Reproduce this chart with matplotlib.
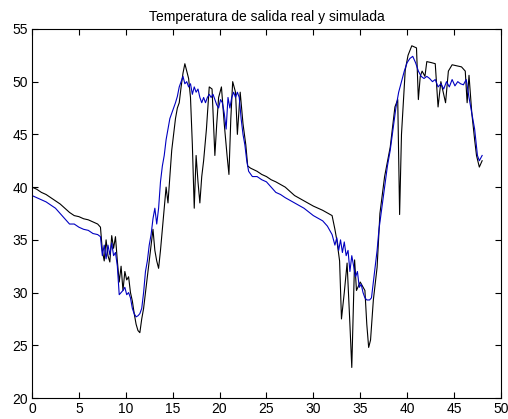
import matplotlib
matplotlib.use("Agg")
import matplotlib.pyplot as plt

# real (measured) outlet temperature
t_real = [0, 0.5, 1, 1.5, 2, 2.5, 3, 3.5, 4, 4.5, 5, 5.5, 6, 6.5, 7, 7.3,
          7.5, 7.7, 7.9, 8.1, 8.3, 8.5, 8.7, 8.9, 9.1, 9.3, 9.5, 9.7, 9.9,
          10.1, 10.3, 10.5, 10.7, 10.9, 11.1, 11.3, 11.5, 11.7, 11.9, 12.1,
          12.3, 12.5, 12.7, 12.9, 13.1, 13.3, 13.5, 13.7, 13.9, 14.1, 14.3,
          14.5, 14.7, 14.9, 15.1, 15.3, 15.5, 15.7, 15.9, 16.1, 16.3, 16.5,
          16.7, 16.9, 17.1, 17.3, 17.5, 17.7, 17.9, 18.1, 18.3, 18.6, 18.9,
          19.2, 19.5, 19.7, 19.9, 20.2, 20.5, 20.8, 21.0, 21.2, 21.4, 21.7,
          21.9, 22.2, 22.5, 22.8, 23.0, 23.3, 24, 24.5, 25, 25.5, 26, 27,
          28, 29, 30, 31, 32, 32.3, 32.5, 32.8, 33.0, 33.3, 33.6, 33.9, 34.1,
          34.4, 34.6, 35.0, 35.5, 35.7, 35.9, 36.1, 36.4, 36.8, 37.1, 37.6,
          38.2, 38.7, 39.0, 39.2, 39.4, 39.8, 40.1, 40.5, 41.0, 41.2, 41.4,
          41.6, 41.9, 42.1, 42.6, 43.0, 43.3, 43.6, 44.1, 44.4, 44.8, 45.3,
          45.8, 46.2, 46.4, 46.6, 46.9, 47.2, 47.4, 47.7, 48.0]
y_real = [40.0, 39.8, 39.5, 39.3, 39.0, 38.7, 38.4, 38.0, 37.6, 37.3, 37.2,
          37.0, 36.9, 36.7, 36.5, 36.2, 34.0, 33.0, 35.0, 33.5, 32.9, 35.4,
          34.2, 35.3, 33.0, 31.0, 32.5, 30.2, 32.0, 31.2, 31.5, 30.0, 29.2,
          28.0, 27.0, 26.4, 26.2, 27.5, 28.5, 30.0, 31.5, 33.0, 34.5, 36.0,
          34.0, 33.0, 32.3, 34.0, 36.0, 38.0, 40.0, 38.5, 41.0, 43.5, 45.0,
          46.5, 47.5, 48.0, 49.5, 50.8, 51.7, 51.0, 50.3, 48.5, 44.0, 38.0,
          43.0, 40.5, 38.5, 41.0, 42.5, 45.5, 49.5, 49.3, 43.0, 46.0, 48.5,
          49.5, 46.0, 43.0, 41.2, 46.5, 50.0, 49.0, 45.0, 49.0, 46.0, 44.0,
          42.0, 41.8, 41.5, 41.2, 41.0, 40.7, 40.5, 40.0, 39.2, 38.7, 38.2,
          37.8, 37.3, 36.0, 35.0, 33.0, 27.5, 30.0, 32.8, 27.0, 22.9, 33.1,
          30.2, 31.0, 30.2, 27.0, 24.8, 25.5, 29.3, 32.4, 37.5, 41.0, 43.8,
          47.6, 48.3, 37.4, 45.0, 51.1, 52.5, 53.4, 53.2, 48.3, 50.5, 51.0,
          50.5, 51.9, 51.8, 51.7, 47.6, 50.0, 48.0, 51.0, 51.6, 51.5, 51.4,
          51.0, 48.0, 50.6, 47.0, 44.5, 43.0, 41.9, 42.5]

# simulated outlet temperature
t_sim = [0, 0.5, 1, 1.5, 2, 2.5, 3, 3.5, 4, 4.5, 5, 5.5, 6, 6.5, 7, 7.3,
         7.5, 7.7, 7.9, 8.1, 8.3, 8.5, 8.7, 8.9, 9.1, 9.3, 9.5, 9.7, 9.9,
         10.1, 10.3, 10.5, 10.7, 10.9, 11.1, 11.3, 11.5, 11.7, 11.9, 12.1,
         12.3, 12.5, 12.7, 12.9, 13.1, 13.3, 13.5, 13.7, 13.9, 14.1, 14.3,
         14.5, 14.7, 14.9, 15.1, 15.3, 15.5, 15.7, 15.9, 16.1, 16.3, 16.5,
         16.7, 16.9, 17.1, 17.3, 17.5, 17.7, 17.9, 18.1, 18.3, 18.5, 18.7,
         18.9, 19.1, 19.3, 19.5, 19.7, 19.9, 20.1, 20.3, 20.5, 20.7, 20.9,
         21.1, 21.3, 21.5, 21.7, 21.9, 22.1, 22.3, 22.5, 22.7, 22.9, 23.1,
         23.5, 24, 24.5, 25, 25.5, 26, 26.5, 27, 28, 29, 30, 31, 31.5, 32,
         32.3, 32.5, 32.7, 32.9, 33.1, 33.3, 33.5, 33.7, 33.9, 34.1, 34.3,
         34.5, 34.7, 34.9, 35.1, 35.3, 35.5, 35.7, 36.0, 36.2, 36.4, 36.6,
         36.8, 37.0, 37.3, 37.6, 37.9, 38.2, 38.5, 38.8, 39.1, 39.4, 39.7,
         40.0, 40.3, 40.6, 40.9, 41.2, 41.5, 41.8, 42.1, 42.4, 42.7, 43.0,
         43.3, 43.6, 43.9, 44.2, 44.5, 44.8, 45.1, 45.4, 45.7, 46.0, 46.3,
         46.6, 46.9, 47.2, 47.5, 47.7, 48.0]
y_sim = [39.2, 39.0, 38.8, 38.6, 38.3, 38.0, 37.5, 37.0, 36.5, 36.5, 36.2,
         36.0, 35.9, 35.6, 35.5, 35.3, 33.5, 34.5, 33.2, 34.5, 33.6, 34.7,
         33.5, 33.8, 32.5, 29.8, 30.0, 30.2, 30.5, 29.8, 30.0, 29.5, 28.5,
         28.0, 27.7, 27.8, 28.0, 28.5, 30.0, 32.0, 33.0, 34.5, 35.5, 37.0,
         38.0, 36.5, 38.0, 40.5, 42.0, 43.0, 44.5, 45.5, 46.5, 47.0, 47.5,
         48.0, 48.6, 49.5, 50.0, 50.5, 49.8, 50.0, 49.5, 49.8, 48.8, 49.5,
         49.0, 49.3, 48.5, 48.0, 48.5, 48.0, 48.5, 48.8, 48.5, 48.8, 48.3,
         47.8, 47.5, 48.3, 48.0, 47.0, 45.5, 48.5, 47.5, 48.5, 49.0, 48.5,
         49.0, 48.5, 46.5, 45.0, 44.0, 42.5, 41.5, 41.0, 41.0, 40.7, 40.5,
         40.0, 39.5, 39.3, 39.0, 38.5, 38.0, 37.3, 36.8, 36.3, 35.5, 34.5,
         35.2, 34.0, 35.0, 33.8, 34.8, 33.5, 34.0, 32.0, 33.5, 32.5, 31.5,
         32.0, 30.5, 30.8, 30.0, 29.5, 29.3, 29.3, 29.5, 31.0, 32.5, 34.0,
         36.0, 38.0, 40.0, 42.0, 43.5, 45.5, 47.5, 49.0, 50.0, 51.0, 51.8,
         52.2, 52.4, 51.8, 51.0, 50.5, 50.3, 50.5, 50.3, 50.0, 50.2, 49.5,
         49.8, 49.3, 50.0, 49.5, 50.2, 49.6, 50.0, 49.8, 49.7, 50.2, 48.5,
         47.0, 45.5, 43.0, 42.5, 43.0]

title = "Temperatura de salida real y simulada"
x_ticks = list(range(0, 51, 5))
y_ticks = list(range(20, 56, 5))

plt.rcParams["font.family"] = ["Liberation Sans", "DejaVu Sans"]

fig = plt.figure(figsize=(5.08, 4.19), dpi=100)
ax = fig.add_axes([0.063, 0.050, 0.923, 0.881])

ax.plot(t_real, y_real, color="black", lw=0.8)
ax.plot(t_sim, y_sim, color="#0000c0", lw=0.8)

ax.set_xlim(0, 50)
ax.set_ylim(20, 55)
ax.set_xticks(x_ticks)
ax.set_yticks(y_ticks)
ax.tick_params(direction="in", length=4, width=0.8, labelsize=10,
               top=True, right=True, pad=3)
for s in ax.spines.values():
    s.set_linewidth(0.8)
ax.set_title(title, fontsize=10, pad=6)

fig.savefig("out.png", dpi=100)
